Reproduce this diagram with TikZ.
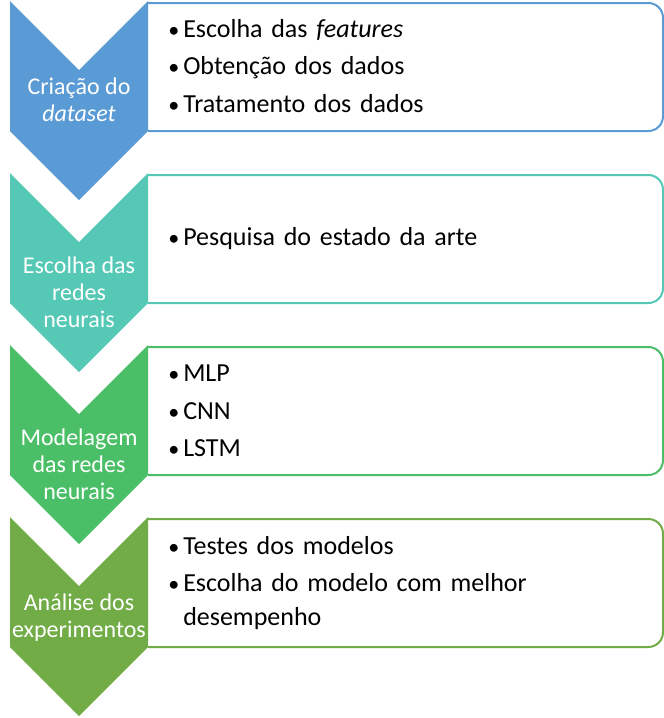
\documentclass[tikz,border=0pt]{standalone}
\usepackage{graphicx}
\usepackage{fontspec}
\setmainfont{Carlito}
\definecolor{cblue}{HTML}{5B9BD5}
\definecolor{cteal}{HTML}{55C9B5}
\definecolor{cgreen}{HTML}{4BBF67}
\definecolor{colive}{HTML}{71AC47}
\hyphenpenalty=10000
\newcommand{\bul}{\noindent\makebox[11.25pt][l]{\scalebox{0.85}{\textbullet}}\hangindent=11.25pt\hangafter=1\relax}

\begin{document}
\begin{tikzpicture}[x=0.75pt, y=-0.75pt,
  box/.style = {draw=#1, line width=1.5pt, fill=white, rounded corners=11pt},
  lab/.style = {text=white, align=center, inner sep=0pt, font=\fontsize{18}{20.25}\selectfont},
  items/.style = {anchor=west, text width=352pt, inner sep=0pt, align=left,
    font=\fontsize{19.5}{25.5}\selectfont}]
  \useasboundingbox (0,0) rectangle (664,718);

  % boxes on the right
  \draw[box=cblue] (148,3) -- (663,3) -- (663,131) -- (148,131);
  \draw[box=cteal] (148,175) -- (663,175) -- (663,303) -- (148,303);
  \draw[box=cgreen] (148,347) -- (663,347) -- (663,475) -- (148,475);
  \draw[box=colive] (148,519) -- (663,519) -- (663,647) -- (148,647);

  % chevrons
  \fill[cblue] (10,1) -- (79,70) -- (148,1) -- (148,131) -- (79,200) -- (10,131) -- cycle;
  \fill[cteal] (10,173) -- (79,242) -- (148,173) -- (148,303) -- (79,372) -- (10,303) -- cycle;
  \fill[cgreen] (10,345) -- (79,414) -- (148,345) -- (148,475) -- (79,544) -- (10,475) -- cycle;
  \fill[colive] (10,517) -- (79,586) -- (148,517) -- (148,647) -- (79,716) -- (10,647) -- cycle;

  \node[lab] (c1) at (79,100) {Criação do\\\textit{dataset}};
  \node[lab] (c2) at (79,292) {Escolha das\\redes\\neurais};
  \node[lab] (c3) at (79,464) {Modelagem\\das redes\\neurais};
  \node[lab] (c4) at (79,618) {Análise dos\\experimentos};

  \node[items] (l1) at (168,66) {\setlength{\parskip}{2.5pt}%
    \bul Escolha das \textit{features}\par
    \bul Obtenção dos dados\par
    \bul Tratamento dos dados};
  \node[items] (l2) at (168,239) {\bul Pesquisa do estado da arte};
  \node[items] (l3) at (168,411) {\setlength{\parskip}{2.5pt}%
    \bul MLP\par
    \bul CNN\par
    \bul LSTM};
  \node[items] (l4) at (168,583) {\setlength{\parskip}{2.5pt}%
    \bul Testes dos modelos\par
    \bul Escolha do modelo com melhor desempenho\par};
\end{tikzpicture}
\end{document}
